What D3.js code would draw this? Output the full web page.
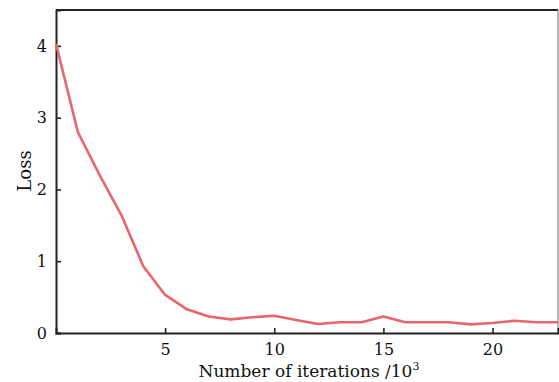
<!DOCTYPE html>
<html><head><meta charset="utf-8">
<script src="https://cdn.jsdelivr.net/npm/d3@7"></script>
<style>
html,body{margin:0;padding:0;background:#fff;}
text{font-family:"DejaVu Serif","Liberation Serif",serif;fill:#111;}
</style></head>
<body><svg id="c" width="559" height="382"></svg>
<script>
const iterations = [0,1,2,3,4,5,6,7,8,9,10,11,12,13,14,15,16,17,18,19,20,21,22,23];
const loss = [4.03,2.80,2.20,1.64,0.93,0.53,0.33,0.23,0.19,0.22,0.24,0.18,0.125,0.15,0.15,0.23,0.15,0.15,0.15,0.12,0.14,0.17,0.15,0.15];
const xTicks = [5,10,15,20];
const yTicks = [0,1,2,3,4];

const svg = d3.select("#c");
const m = {l:56, r:558, t:10, b:333};
const x = d3.scaleLinear().domain([0,23]).range([m.l, m.r]);
const y = d3.scaleLinear().domain([0,4.5]).range([m.b, m.t]);

// frame
svg.append("line").attr("x1",m.l).attr("x2",m.r).attr("y1",m.t).attr("y2",m.t).attr("stroke","#222").attr("stroke-width",2);
svg.append("line").attr("x1",m.r).attr("x2",m.r).attr("y1",m.t).attr("y2",m.b).attr("stroke","#888").attr("stroke-width",1.2);

// axes with inward ticks
const gx = svg.append("g").attr("transform",`translate(0,${m.b})`)
  .call(d3.axisTop(x).tickValues(xTicks).tickSize(5).tickFormat(""));
gx.select(".domain").attr("stroke","#222").attr("stroke-width",2);
gx.selectAll(".tick line").attr("stroke","#222").attr("stroke-width",1.6);
const xl = svg.append("g").attr("transform",`translate(0,${m.b})`)
  .call(d3.axisBottom(x).tickValues(xTicks).tickSize(0).tickPadding(11).tickFormat(d3.format("d")));
xl.select(".domain").remove();
xl.selectAll("text").style("font-size","16px").style("font-family","DejaVu Serif").attr("fill","#111");

const gy = svg.append("g").attr("transform",`translate(${m.l},0)`)
  .call(d3.axisRight(y).tickValues(yTicks).tickSize(5).tickFormat(""));
gy.select(".domain").attr("stroke","#222").attr("stroke-width",2);
gy.selectAll(".tick line").attr("stroke","#222").attr("stroke-width",1.6);
const yl = svg.append("g").attr("transform",`translate(${m.l},0)`)
  .call(d3.axisLeft(y).tickValues(yTicks).tickSize(0).tickPadding(9).tickFormat(d3.format("d")));
yl.select(".domain").remove();
yl.selectAll("text").style("font-size","16px").style("font-family","DejaVu Serif").attr("fill","#111");

// line
const line = d3.line().x((d,i)=>x(iterations[i])).y(d=>y(d));
svg.append("path").datum(loss).attr("d",line).attr("fill","none")
  .attr("stroke","#e8656b").attr("stroke-width",2.6).attr("stroke-linejoin","round");

// titles
const xt = svg.append("text").attr("x",(m.l+m.r)/2+2).attr("y",377).attr("text-anchor","middle")
  .style("font-size","17px");
xt.append("tspan").text("Number of iterations /10");
xt.append("tspan").attr("dy",-7).style("font-size","11px").text("3");

svg.append("text").attr("transform","translate(31,171) rotate(-90)").attr("text-anchor","middle")
  .style("font-size","18px").text("Loss");
</script></body></html>
